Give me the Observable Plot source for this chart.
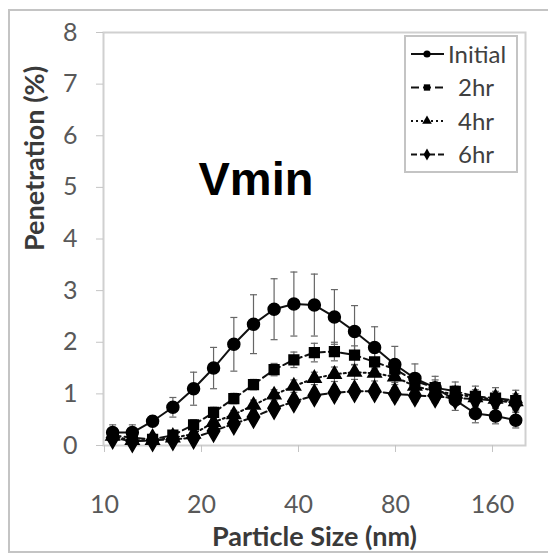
<!DOCTYPE html>
<html><head><meta charset="utf-8">
<script src="https://cdn.jsdelivr.net/npm/d3@7"></script>
<script src="https://cdn.jsdelivr.net/npm/@observablehq/plot@0.6"></script>
<style>
body{margin:0;background:#fff;}
#wrap{position:relative;width:548px;height:556px;overflow:hidden;background:#fff;}
#outer{position:absolute;left:8px;top:9px;width:600px;height:544px;border:2px solid #c4c4c4;box-sizing:border-box;pointer-events:none;}
#legend{position:absolute;left:404px;top:35px;}
</style></head><body>
<div id="wrap"><div id="chart"></div><div id="outer"></div><div id="legend"></div></div>
<script>
// Particle size bin midpoints (nm)
const sizes = [10.6, 12.2, 14.1, 16.3, 18.9, 21.8, 25.2, 29.0, 33.6, 38.7, 44.8, 51.7, 59.7, 68.9, 79.6, 91.9, 106.2, 122.6, 141.6, 163.5, 188.9];
const seriesNames = ["Initial", "2hr", "4hr", "6hr"];
const initialVals = [0.25, 0.25, 0.47, 0.74, 1.10, 1.50, 1.96, 2.35, 2.64, 2.74, 2.72, 2.49, 2.21, 1.90, 1.57, 1.30, 1.12, 0.88, 0.62, 0.57, 0.49];
const initialErr  = [0.15, 0.15, 0.10, 0.19, 0.32, 0.40, 0.52, 0.57, 0.59, 0.62, 0.60, 0.53, 0.50, 0.40, 0.35, 0.28, 0.22, 0.20, 0.18, 0.15, 0.15];
const twoHrVals   = [0.20, 0.15, 0.12, 0.20, 0.40, 0.64, 0.91, 1.18, 1.47, 1.66, 1.80, 1.82, 1.75, 1.62, 1.48, 1.25, 1.12, 1.05, 0.95, 0.92, 0.87];
const twoHrErr    = [0.10, 0.08, 0.05, 0.08, 0.10, 0.10, 0.10, 0.10, 0.12, 0.15, 0.18, 0.18, 0.18, 0.18, 0.18, 0.15, 0.15, 0.18, 0.20, 0.20, 0.20];
const fourHrVals  = [0.18, 0.10, 0.10, 0.15, 0.22, 0.45, 0.60, 0.78, 0.98, 1.15, 1.30, 1.38, 1.42, 1.40, 1.33, 1.15, 1.05, 1.00, 0.93, 0.90, 0.85];
const fourHrErr   = [0.08, 0.06, 0.05, 0.06, 0.08, 0.08, 0.08, 0.10, 0.10, 0.12, 0.12, 0.14, 0.14, 0.15, 0.15, 0.14, 0.14, 0.15, 0.15, 0.15, 0.15];
const sixHrVals   = [0.15, 0.08, 0.10, 0.12, 0.15, 0.28, 0.42, 0.55, 0.72, 0.85, 0.97, 1.02, 1.05, 1.05, 1.00, 0.97, 0.95, 0.92, 0.90, 0.87, 0.83];
const sixHrErr    = [0.08, 0.06, 0.05, 0.05, 0.06, 0.06, 0.08, 0.08, 0.10, 0.10, 0.12, 0.12, 0.12, 0.12, 0.12, 0.12, 0.12, 0.12, 0.12, 0.12, 0.12];
const xTicks = [10, 20, 40, 80, 160];
const yTicks = [0, 1, 2, 3, 4, 5, 6, 7, 8];

const values = [initialVals, twoHrVals, fourHrVals, sixHrVals];
const errors = [initialErr, twoHrErr, fourHrErr, sixHrErr];
const dashes = [null, "8,4", "2,3", "6,3"];
const symbols = ["circle", "square", "triangle", "diamond"];
const radii = [6, 5.5, 5, 6.5];

const data = [];
seriesNames.forEach((s, i) => sizes.forEach((x, j) => data.push({series: s, x, y: values[i][j], e: errors[i][j]})));

const cap = {draw(ctx) { ctx.moveTo(-3.5, 0); ctx.lineTo(3.5, 0); }};
const font = "Lato, 'Open Sans', sans-serif";

const marks = [
  Plot.frame({stroke: "#d0d0d0", strokeWidth: 2}),
  Plot.axisY(yTicks, {tickSize: 7, tickPadding: 19, fontSize: 25, color: "#595959", stroke: "#c4c4c4", tickFormat: d => String(d), label: null}),
  Plot.axisX(xTicks, {tickSize: 7, fontSize: 25, color: "#595959", stroke: "#c4c4c4", tickFormat: () => "", label: null}),
  Plot.text(xTicks, {x: d => d, text: d => String(d), frameAnchor: "bottom", lineAnchor: "top", dy: 50, fontSize: 25, fill: "#595959", fontFamily: font}),
  Plot.ruleX(data, {x: "x", y1: d => d.y - d.e, y2: d => d.y + d.e, stroke: "#666", strokeWidth: 1.2}),
  Plot.dot(data, {x: "x", y: d => d.y - d.e, symbol: cap, stroke: "#666", strokeWidth: 1.2}),
  Plot.dot(data, {x: "x", y: d => d.y + d.e, symbol: cap, stroke: "#666", strokeWidth: 1.2})
];
seriesNames.forEach((s, i) => {
  const sub = data.filter(d => d.series === s);
  marks.push(Plot.line(sub, {x: "x", y: "y", stroke: "#111", strokeWidth: 2, strokeDasharray: dashes[i]}));
});
seriesNames.forEach((s, i) => {
  const sub = data.filter(d => d.series === s);
  marks.push(Plot.dot(sub, {x: "x", y: "y", symbol: symbols[i], r: radii[i], fill: "#000", stroke: "#000"}));
});
marks.push(
  Plot.text(["Particle Size (nm)"], {text: d => d, frameAnchor: "bottom", dy: 100, fontSize: 27, fontWeight: "bold", fill: "#3a3a3a", fontFamily: font}),
  Plot.text(["Penetration (%)"], {text: d => d, frameAnchor: "left", dx: -68, dy: 12, rotate: -90, fontSize: 27, fontWeight: "bold", fill: "#3a3a3a", fontFamily: font}),
  Plot.text(["Vmin"], {text: d => d, frameAnchor: "top-left", dx: 95, dy: 162, textAnchor: "start", lineAnchor: "bottom", fontSize: 47, fontWeight: "bold", fill: "#000", fontFamily: "'Liberation Sans', Arial, sans-serif"})
);

const chart = Plot.plot({
  width: 548, height: 556,
  marginLeft: 103, marginRight: 23, marginTop: 32, marginBottom: 111,
  style: {fontFamily: font, background: "transparent"},
  x: {type: "log", base: 2, domain: [10, 160], range: [104, 492]},
  y: {domain: [0, 8]},
  marks
});
document.getElementById("chart").appendChild(chart);

// Legend
const lw = 114, lh = 138;
const lg = d3.select("#legend").append("svg").attr("width", lw).attr("height", lh);
lg.append("rect").attr("x", 1).attr("y", 1).attr("width", lw - 2).attr("height", lh - 2)
  .attr("fill", "#fff").attr("stroke", "#c4c4c4").attr("stroke-width", 2);
seriesNames.forEach((s, i) => {
  const cy = 19 + i * 33.5;
  const g = lg.append("g");
  g.append("line").attr("x1", 7).attr("x2", 40).attr("y1", cy).attr("y2", cy)
    .attr("stroke", "#111").attr("stroke-width", 2).attr("stroke-dasharray", dashes[i]);
  const sym = {circle: d3.symbolCircle, square: d3.symbolSquare, triangle: d3.symbolTriangle, diamond: d3.symbolDiamond}[symbols[i]];
  g.append("path").attr("transform", `translate(23,${cy})`).attr("d", d3.symbol(sym, 40)()).attr("fill", "#000");
  g.append("text").attr("x", i === 0 ? 44 : 54).attr("y", cy).attr("dy", "0.36em")
    .attr("font-family", font).attr("font-size", 24).attr("fill", "#404040").text(s);
});
</script>
</body></html>
